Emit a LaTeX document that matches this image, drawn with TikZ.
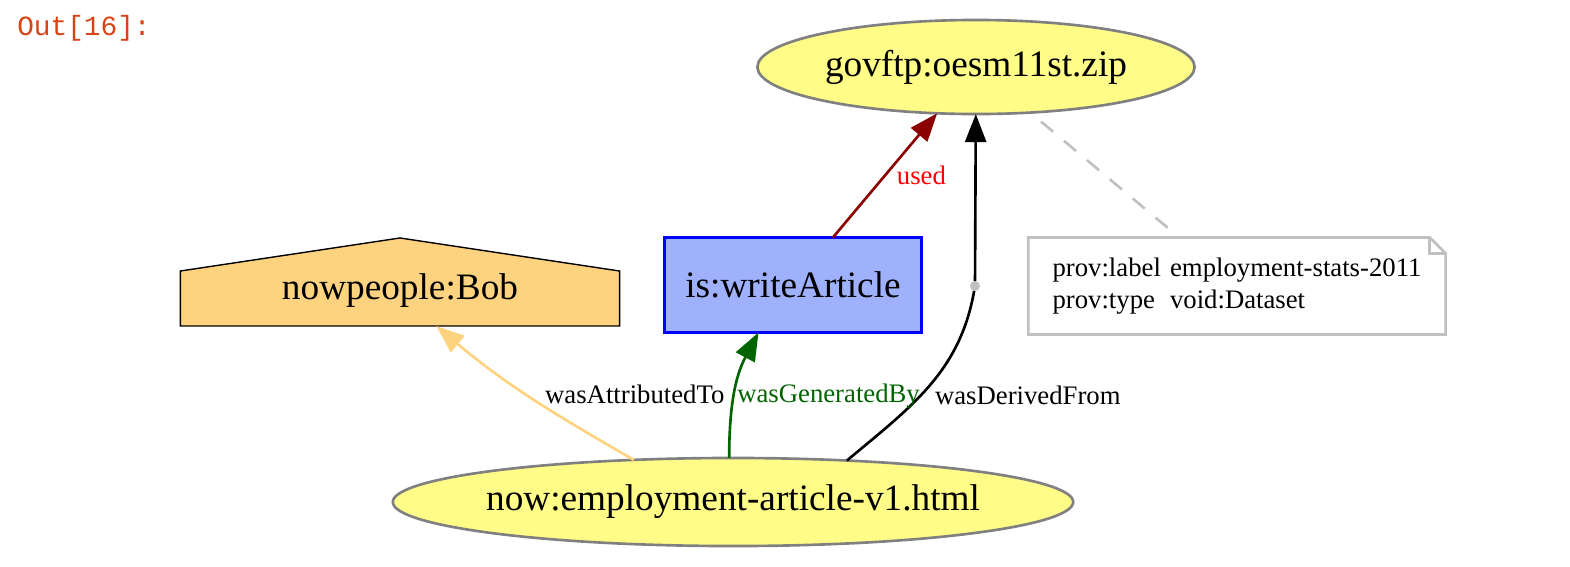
\documentclass[tikz,border=0pt]{standalone}
\usepackage{fontspec}
\setmainfont{Liberation Serif}
\setmonofont{Liberation Mono}
\usetikzlibrary{shapes.geometric, arrows.meta, backgrounds}

\definecolor{entityfill}{HTML}{FFFC87}
\definecolor{entityline}{HTML}{808080}
\definecolor{activityfill}{HTML}{9FB1FC}
\definecolor{activityline}{HTML}{0000FF}
\definecolor{agentfill}{HTML}{FED37F}
\definecolor{usedline}{HTML}{8B0000}
\definecolor{genline}{HTML}{006400}
\definecolor{annotline}{HTML}{C0C0C0}
\definecolor{promptcolor}{HTML}{D84315}

\tikzset{
    nodefont/.style={font=\fontsize{10.6}{12}\selectfont},
    edgefont/.style={font=\fontsize{7.6}{9.1}\selectfont, inner sep=1pt},
    entity/.style={nodefont, ellipse, draw=entityline, fill=entityfill, inner sep=0pt, outer sep=0pt},
    activity/.style={nodefont, rectangle, draw=activityline, fill=activityfill, inner sep=0pt, outer sep=0pt},
    agentbox/.style={nodefont, rectangle, inner sep=0pt, outer sep=0pt},
    annot/.style={edgefont, rectangle, inner sep=0pt, outer sep=0pt},
    blank/.style={circle, fill=annotline, minimum size=0.1cm, inner sep=0pt, outer sep=0pt},
    prompt/.style={font=\ttfamily\fontsize{7.9}{9}\selectfont, text=promptcolor, inner sep=0pt},
    usedarrow/.style={draw=usedline},
    genarrow/.style={draw=genline},
    attrarrow/.style={draw=agentfill},
    derivarrow/.style={draw=black},
    notelink/.style={draw=annotline, dash pattern=on 4.5pt off 4pt, dash phase=4.5pt},
}

\begin{document}
\begin{tikzpicture}[x=0.01cm, y=-0.01cm, >={Triangle[length=8pt, width=6pt]}, line width=0.75pt]
    \useasboundingbox (0,0) rectangle (1570,566);

    % prompt
    \node [prompt, anchor=west] (out) at (16,28) {Out[16]:};

    % entities, activity, agent
    \node [entity, minimum width=4.37cm, minimum height=0.94cm] (govftp) at (976,67) {govftp:oesm11st.zip};
    \node [activity, minimum width=2.57cm, minimum height=0.95cm] (article) at (793,285) {is:writeArticle};
    \node [agentbox, minimum width=4.39cm, minimum height=0.70cm] (bob) at (400,291) {nowpeople:Bob};
    \node [entity, minimum width=6.8cm, minimum height=0.88cm, inner xsep=-1mm] (now) at (733,502) {now:employment-article-v1.html};
    \node [blank] (derived) at (975,286) {};

    % note
    \node [annot, minimum width=4.17cm, minimum height=0.97cm] (note) at (1237,286) {%
        \begin{tabular}{@{}l@{\hspace{2.6pt}}l@{}}
            prov:label & employment-stats-2011\\
            prov:type & void:Dataset
        \end{tabular}};
    \draw [annotline] (note.south west) -- (note.north west)
        -- ([xshift=-0.16cm]note.north east) coordinate (fold)
        -- ([yshift=-0.16cm]note.north east) -- (note.south east) -- cycle;
    \draw [annotline] (fold) --++ (0,16) --++ (16,0);

    % house of the agent
    \begin{scope}[on background layer]
        \draw [fill=agentfill] (bob.south west) -- (bob.south east) --++ (0,-55)
            -- ([yshift=0.18cm]bob.north) -- ([yshift=0.55cm]bob.south west) -- cycle;
    \end{scope}

    % relations
    \draw [usedarrow, ->] (article) -- (govftp)
        node [midway, right, edgefont, text=red, xshift=2pt] {used};
    \draw [derivarrow] (now.20) to [out=40, in=-100]
        node [pos=0.42, right, edgefont, text=black, xshift=3.5pt, yshift=1pt] {wasDerivedFrom} (derived);
    \draw [derivarrow, ->] (derived) -- (govftp);
    \draw [genarrow, ->] (now.95) to [out=90, in=-118]
        node [pos=0.47, right, edgefont, text=genline, xshift=-0.5pt] {wasGeneratedBy} (article.-126);
    \draw [attrarrow, ->] (now.157) to [out=150, in=-40]
        node [pos=0.5, right, edgefont, text=black, xshift=2.5pt, yshift=1pt] {wasAttributedTo} (bob.-44);
    \draw [notelink] (govftp) -- (note);
\end{tikzpicture}
\end{document}
